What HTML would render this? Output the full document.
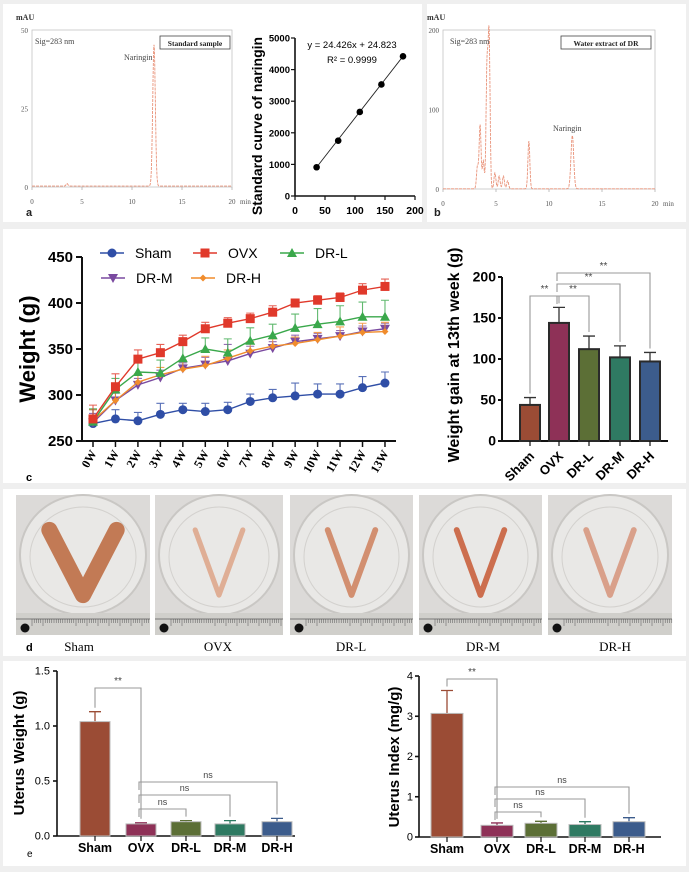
<!DOCTYPE html>
<html><head><meta charset="utf-8"><style>
html,body{margin:0;padding:0;background:#efefef;}
svg{display:block;font-family:"Liberation Sans",Arial,sans-serif;}
.serif{font-family:"Liberation Serif",serif;}
</style></head><body>
<svg id="fig" width="689" height="872" viewBox="0 0 689 872" xmlns="http://www.w3.org/2000/svg">
<rect x="0" y="0" width="689" height="872" fill="#efefef"/>
<rect x="3" y="4" width="419" height="218" fill="#fff"/>
<rect x="427" y="4" width="259" height="218" fill="#fff"/>
<rect x="3" y="229" width="683" height="254" fill="#fff"/>
<rect x="3" y="489" width="683" height="167" fill="#fff"/>
<rect x="3" y="661" width="683" height="205" fill="#fff"/>
<g id="root"></g>
</svg>
<script>
// ---- data ----
const chromAPeakTimes=[3.5,12.2];
const chromAPeakHeights=[0.8,45];
const chromBPeakTimes=[3.25,3.5,3.8,4.15,4.35,4.9,5.3,5.7,6.1,8.1,12.2];
const chromBPeakHeights=[28,80,35,150,190,20,16,16,10,60,67];
const stdConc=[36,72,108,144,180];
const stdArea=[910,1750,2660,3530,4420];
const weeks=['0W','1W','2W','3W','4W','5W','6W','7W','8W','9W','10W','11W','12W','13W'];
const groups=['Sham','OVX','DR-L','DR-M','DR-H'];
const wSham=[269,274,272,279,284,282,284,293,297,299,301,301,308,313];
const eSham=[15,10,9,12,7,9,8,8,9,14,11,11,12,12];
const wOVX=[274,309,339,346,358,372,378,383,390,400,403,406,414,418];
const eOVX=[15,14,10,9,7,7,6,6,7,4,5,5,7,8];
const wDRL=[271,306,325,324,340,350,346,359,365,373,377,380,385,385];
const eDRL=[14,12,12,14,14,12,15,14,12,15,17,17,16,18];
const wDRM=[270,294,311,319,329,333,337,345,351,358,361,364,369,372];
const eDRM=[10,8,7,8,6,8,18,8,7,7,6,6,6,6];
const wDRH=[272,294,314,322,328,332,340,348,353,356,360,364,368,369];
const eDRH=[12,14,9,8,10,10,9,10,8,7,8,10,10,10];
const gainVals=[44,144,112,102,97];
const gainErr=[9,19,16,14,11];
const uwVals=[1.04,0.11,0.13,0.11,0.13];
const uwErr=[0.09,0.01,0.01,0.03,0.03];
const uiVals=[3.07,0.29,0.34,0.31,0.38];
const uiErr=[0.57,0.06,0.05,0.07,0.10];
const weightTicks=[250,300,350,400,450];
const gainTicks=[0,50,100,150,200];
const uwTicks=['0.0','0.5','1.0','1.5'];
const uiTicks=[0,1,2,3,4];
const stdYTicks=[0,1000,2000,3000,4000,5000];
const stdXTicks=[0,50,100,150,200];
const chromXTicks=[0,5,10,15,20];
const chromATicks=[0,25,50];
const chromBTicks=[0,100,200];

const NS='http://www.w3.org/2000/svg';
const root=document.getElementById('root');
function mk(tag,attrs,parent,text){const e=document.createElementNS(NS,tag);for(const k in attrs)e.setAttribute(k,attrs[k]);if(text!==undefined)e.textContent=text;(parent||root).appendChild(e);return e;}
const barColors=['#9b4c35','#8e3157','#5c6f36','#2f7a62','#3c5c8c'];
const lineColors=['#2f4ea6','#e0392b','#3aa84b','#7a4aa0','#f08c2c'];

// ---- chromatograms ----
function chrom(x0,x1,y0,yTop,ymax,ticks,times,heights,label,boxText,boxX,boxW,sigX,narX,narY,letter,name){
  const g=mk('g',{});
  
  
  const sx=t=>x0+(t/20)*(x1-x0), sy=v=>y0-(v/ymax)*(y0-yTop);
  const fr=mk('rect',{x:x0,y:yTop,width:x1-x0,height:y0-yTop,fill:'none',stroke:'#bbb','stroke-width':0.7},g);
  
  
  ticks.forEach(v=>{const t=mk('text',{x:x0-4,y:sy(v)+3,'text-anchor':'end','font-size':7,fill:'#555',class:'serif'},g,v);
    
    });
  chromXTicks.forEach(v=>{const t=mk('text',{x:sx(v),y:y0+17,'text-anchor':'middle','font-size':7,fill:'#555',class:'serif'},g,v);
    
    
    mk('line',{x1:sx(v),x2:sx(v),y1:y0,y2:y0+3,stroke:'#999','stroke-width':0.6},g);});
  const mn=mk('text',{x:x1+8,y:y0+17,'font-size':7,fill:'#555',class:'serif'},g,'min');
  
  
  const mau=mk('text',{x:x0-16,y:yTop-10,'font-size':8,'font-weight':'bold',fill:'#333',class:'serif'},g,'mAU');
  
  
  let d='';
  for(let i=0;i<=800;i++){const t=i*20/800;let v=0.3;times.forEach((c,k)=>{const w=(c>11?0.13:0.09);v+=heights[k]*Math.exp(-((t-c)*(t-c))/(2*w*w));});
    d+=(i?'L':'M')+sx(t).toFixed(1)+' '+sy(v).toFixed(1);}
  const tr=mk('path',{d:d,fill:'none',stroke:'#e9937a','stroke-width':0.9,'stroke-dasharray':'3 1'},g);
  
  
  const sg=mk('text',{x:sigX,y:yTop+14,'font-size':8,fill:'#444',class:'serif'},g,'Sig=283 nm');
  
  
  const bx=mk('rect',{x:boxX,y:yTop+6,width:boxW,height:13,fill:'#fff',stroke:'#444','stroke-width':0.8},g);
  
  
  const bt=mk('text',{x:boxX+boxW/2,y:yTop+16,'text-anchor':'middle','font-size':7.5,'font-weight':'bold',fill:'#222',class:'serif'},g,boxText);
  
  
  const nl=mk('text',{x:narX,y:narY,'font-size':8,fill:'#444',class:'serif'},g,'Naringin');
  
  
  const lt=mk('text',{x:letter,y:216,'font-size':11,'font-weight':'bold',fill:'#222'},g,label);
  
  
}
chrom(32,232,187,30,50,chromATicks,chromAPeakTimes,chromAPeakHeights,'a','Standard sample',160,70,35,124,60,26,'chromatogram-a');
chrom(443,655,189,30,200,chromBTicks,chromBPeakTimes,chromBPeakHeights,'b','Water extract of  DR',561,90,450,553,131,434,'chromatogram-b');

// ---- standard curve ----
(function(){
  const g=mk('g',{});
  
  
  const sx=v=>295+v*120/200, sy=v=>196-v*158/5000;
  mk('line',{x1:295,x2:295,y1:sy(5000),y2:196,stroke:'#111','stroke-width':1.6},g);
  mk('line',{x1:295,x2:415,y1:196,y2:196,stroke:'#111','stroke-width':1.6},g);
  stdYTicks.forEach(v=>{mk('line',{x1:291,x2:295,y1:sy(v),y2:sy(v),stroke:'#111','stroke-width':1.2},g);
    const t=mk('text',{x:290,y:sy(v)+3.5,'text-anchor':'end','font-size':9.5,'font-weight':'bold'},g,v);
    
    });
  stdXTicks.forEach(v=>{mk('line',{x1:sx(v),x2:sx(v),y1:196,y2:200,stroke:'#111','stroke-width':1.2},g);
    const t=mk('text',{x:sx(v),y:214,'text-anchor':'middle','font-size':10.5,'font-weight':'bold'},g,v);
    
    });
  const ln=mk('line',{x1:sx(stdConc[0]),y1:sy(stdArea[0]),x2:sx(stdConc[4]),y2:sy(stdArea[4]),stroke:'#222','stroke-width':0.9},g);
  
  
  stdConc.forEach((c,i)=>{const p=mk('circle',{cx:sx(c),cy:sy(stdArea[i]),r:3.3,fill:'#000'},g);
    
    });
  const t1=mk('text',{x:352,y:48,'text-anchor':'middle','font-size':9.5},g,'y = 24.426x + 24.823');
  
  
  const t2=mk('text',{x:352,y:63,'text-anchor':'middle','font-size':9.5},g,'R² = 0.9999');
  
  
  const yt=mk('text',{x:0,y:0,'text-anchor':'middle','font-size':14,'font-weight':'bold',transform:'translate(262,126) rotate(-90)'},g,'Standard curve of naringin');
  
  
})();

// ---- weight line chart ----
(function(){
  const g=mk('g',{});
  
  
  const sx=i=>93+i*22.46, sy=v=>441-(v-250)*184/200;
  mk('line',{x1:82,x2:82,y1:257,y2:441,stroke:'#111','stroke-width':2},g);
  mk('line',{x1:82,x2:396,y1:441,y2:441,stroke:'#111','stroke-width':2},g);
  weightTicks.forEach(v=>{mk('line',{x1:76,x2:82,y1:sy(v),y2:sy(v),stroke:'#111','stroke-width':2},g);
    const t=mk('text',{x:73,y:sy(v)+5,'text-anchor':'end','font-size':15,'font-weight':'bold'},g,v);
    
    });
  weeks.forEach((w,i)=>{mk('line',{x1:sx(i),x2:sx(i),y1:441,y2:447,stroke:'#111','stroke-width':1.5},g);
    const t=mk('text',{x:0,y:0,'text-anchor':'end','font-size':12,'font-weight':'bold',class:'serif',transform:'translate('+(sx(i)+4)+',453) rotate(-60)'},g,w);
    
    });
  const yt=mk('text',{x:0,y:0,'text-anchor':'middle','font-size':22,'font-weight':'bold',transform:'translate(35,349) rotate(-90)'},g,'Weight (g)');
  
  
  const series=[wSham,wOVX,wDRL,wDRM,wDRH], errs=[eSham,eOVX,eDRL,eDRM,eDRH];
  function marker(k,x,y,par){let m;const c=lineColors[k];
    if(k===0)m=mk('circle',{cx:x,cy:y,r:4.5,fill:c},par);
    else if(k===1)m=mk('rect',{x:x-4.5,y:y-4.5,width:9,height:9,fill:c},par);
    else if(k===2)m=mk('path',{d:`M${x} ${y-5}L${x+5} ${y+4}L${x-5} ${y+4}Z`,fill:c},par);
    else if(k===3)m=mk('path',{d:`M${x} ${y+5}L${x+5} ${y-4}L${x-5} ${y-4}Z`,fill:c},par);
    else m=mk('path',{d:`M${x} ${y-3.5}L${x+3.5} ${y}L${x} ${y+3.5}L${x-3.5} ${y}Z`,fill:c},par);
    return m;}
  [0,3,4,2,1].forEach(k=>{
    const sg=mk('g',{},g);
    
    
    series[k].forEach((v,i)=>{const e=mk('path',{d:`M${sx(i)} ${sy(v)}V${sy(v+errs[k][i])}M${sx(i)-4} ${sy(v+errs[k][i])}H${sx(i)+4}`,stroke:lineColors[k],'stroke-width':1.1,fill:'none',opacity:0.8},sg);
      
      });
    const p=mk('polyline',{points:series[k].map((v,i)=>sx(i)+','+sy(v)).join(' '),fill:'none',stroke:lineColors[k],'stroke-width':1.4},sg);
    
    
    series[k].forEach((v,i)=>{const m=marker(k,sx(i),sy(v),sg);
      
      });
  });
  const legPos=[[112,253],[205,253],[292,253],[113,278],[203,278]];
  groups.forEach((nm,k)=>{const lg=mk('g',{},g);
    
    
    const [x,y]=legPos[k];
    mk('line',{x1:x-12,x2:x+12,y1:y,y2:y,stroke:lineColors[k],'stroke-width':1.5},lg);
    marker(k,x,y,lg);
    mk('text',{x:x+23,y:y+5,'font-size':14},lg,nm);});
  const lt=mk('text',{x:26,y:481,'font-size':11,'font-weight':'bold'},g,'c');
  
  
})();

// ---- bar chart helper ----
function barChart(o){
  const g=mk('g',{});
  
  
  const sy=v=>o.y0-v*(o.y0-o.yTop)/o.max;
  mk('line',{x1:o.ax,x2:o.ax,y1:o.yTop,y2:o.y0,stroke:'#111','stroke-width':o.aw},g);
  mk('line',{x1:o.ax,x2:o.xEnd,y1:o.y0,y2:o.y0,stroke:'#111','stroke-width':o.aw},g);
  o.ticks.forEach(v=>{const y=sy(parseFloat(v));mk('line',{x1:o.ax-4,x2:o.ax,y1:y,y2:y,stroke:'#111','stroke-width':o.aw},g);
    const t=mk('text',{x:o.ax-o.tgap,y:y+o.tfs/3,'text-anchor':'end','font-size':o.tfs,'font-weight':o.tfw},g,v);
    
    });
  groups.forEach((nm,i)=>{const cx=o.cx[i];
    const e=mk('path',{d:`M${cx} ${sy(o.vals[i])}V${sy(o.vals[i]+o.errs[i])}M${cx-6} ${sy(o.vals[i]+o.errs[i])}H${cx+6}`,stroke:o.dark?'#333':barColors[i],'stroke-width':1.3,fill:'none'},g);
    
    
    const b=mk('rect',{x:cx-o.bw/2,y:sy(o.vals[i]),width:o.bw,height:o.y0-sy(o.vals[i]),fill:barColors[i],stroke:o.dark?'#2a2a2a':'#bbb','stroke-width':o.dark?2:1},g);
    
    
    mk('line',{x1:cx,x2:cx,y1:o.y0,y2:o.y0+5,stroke:'#111','stroke-width':1.2},g);
    let t;
    if(o.rot)t=mk('text',{x:0,y:0,'text-anchor':'end','font-size':13,'font-weight':'bold',transform:`translate(${cx+5},${o.y0+16}) rotate(-45)`},g,nm);
    else t=mk('text',{x:cx,y:o.y0+16,'text-anchor':'middle','font-size':12.5,'font-weight':'bold'},g,nm);
    
    });
  o.brackets.forEach(br=>{const [a,b,y,lab]=br;const xa=o.cx[a]+(a===1?-2:0),xb=o.cx[b];
    const p=mk('path',{d:`M${xa} ${a===1?y+8:sy(o.vals[a]+o.errs[a])-4}V${y}H${xb}V${sy(o.vals[b]+o.errs[b])-4}`,fill:'none',stroke:'#999','stroke-width':1.1},g);
    
    
    const t=mk('text',{x:(xa+xb)/2,y:y-4,'text-anchor':'middle','font-size':lab==='ns'?9:10,fill:'#444'},g,lab);
    
    });
  const yt=mk('text',{x:0,y:0,'text-anchor':'middle','font-size':o.tsz,'font-weight':'bold',transform:`translate(${o.tx},${o.ty}) rotate(-90)`},g,o.title);
  
  
}
barChart({name:'weight-gain-bar-chart',ax:502,xEnd:668,y0:441,yTop:277,max:200,ticks:gainTicks,tfs:14,tfw:'bold',aw:2,tgap:6,
  cx:[530,559,589,620,650],bw:20,vals:gainVals,errs:gainErr,dark:true,rot:true,
  brackets:[[0,1,296,'**'],[1,2,296,'**'],[1,3,284,'**'],[1,4,273,'**']],
  title:'Weight gain at 13th week (g)',tsz:16,tx:459,ty:355});
barChart({name:'uterus-weight-bar-chart',ax:57,xEnd:295,y0:836,yTop:671,max:1.5,ticks:uwTicks,tfs:11,tfw:'normal',aw:1.6,tgap:7,
  cx:[95,141,186,230,277],bw:30,vals:uwVals,errs:uwErr,dark:false,rot:false,
  brackets:[[0,1,688,'**'],[1,2,809,'ns'],[1,3,795,'ns'],[1,4,782,'ns']],
  title:'Uterus Weight (g)',tsz:15,tx:24,ty:753});
barChart({name:'uterus-index-bar-chart',ax:419,xEnd:661,y0:837,yTop:676,max:4,ticks:uiTicks,tfs:11,tfw:'normal',aw:1.6,tgap:6,
  cx:[447,497,541,585,629],bw:32,vals:uiVals,errs:uiErr,dark:false,rot:false,
  brackets:[[0,1,679,'**'],[1,2,812,'ns'],[1,3,799,'ns'],[1,4,787,'ns']],
  title:'Uterus Index (mg/g)',tsz:15,tx:399,ty:757});
(function(){const t=mk('text',{x:27,y:857,'font-size':10},root,'e');
  
  })();

// ---- photos ----
const photoX=[16,155,290,419,548];
const photoW=[134,128,123,123,124];
const tissueW=[9,4,4.5,4.5,4.5];
const tissueC=['#c27a55','#dfae95','#d28f70','#cc6e4e','#d9a08a'];
groups.forEach((nm,i)=>{
  const g=mk('g',{});
  
  
  const x=photoX[i],w=photoW[i],y=495,h=140,cx=x+w/2;
  mk('rect',{x:x,y:y,width:w,height:h,fill:'#dcdad8'},g);
  mk('ellipse',{cx:cx,cy:y+60,rx:w/2-4,ry:60,fill:'#e9e8e6',stroke:'#c9c7c4','stroke-width':2},g);
  mk('ellipse',{cx:cx,cy:y+62,rx:w/2-14,ry:50,fill:'none',stroke:'#d3d1ce','stroke-width':1},g);
  const s=i===0?1.2:0.85;
  mk('path',{d:`M${cx-28*s} ${y+35} L${cx} ${y+100} L${cx+28*s} ${y+35}`,fill:'none',stroke:tissueC[i],'stroke-width':tissueW[i]*(i===0?1.8:1.3),'stroke-linecap':'round','stroke-linejoin':'round'},g);
  mk('rect',{x:x,y:y+118,width:w,height:22,fill:'#d0cfcb'},g);
  mk('line',{x1:x,x2:x+w,y1:y+124,y2:y+124,stroke:'#777','stroke-width':1},g);
  for(let k=0;k<w-16;k+=2.2)mk('line',{x1:x+16+k,x2:x+16+k,y1:y+124,y2:y+(k%11<1?131:128),stroke:'#555','stroke-width':0.5},g);
  mk('circle',{cx:x+9,cy:y+133,r:4.5,fill:'#111'},g);
  const lab=mk('text',{x:[79,218,351,483,615][i],y:651,'text-anchor':'middle','font-size':13,class:'serif'},root,nm);
  
  
});
(function(){const t=mk('text',{x:26,y:651,'font-size':11,'font-weight':'bold'},root,'d');
  
  })();
</script>
</body></html>
